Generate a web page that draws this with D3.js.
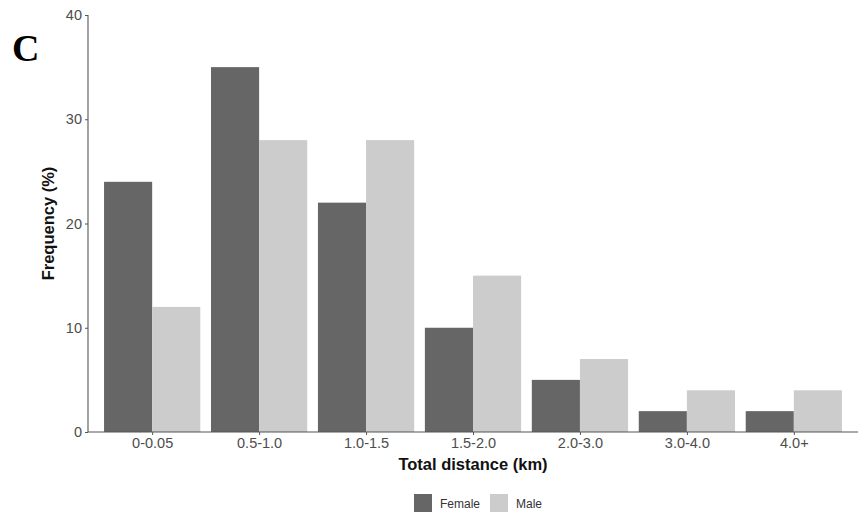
<!DOCTYPE html>
<html>
<head>
<meta charset="utf-8">
<script src="https://cdn.jsdelivr.net/npm/d3@7"></script>
<style>
  body { margin: 0; background: #fff; }
  svg { display: block; font-family: "Liberation Sans", Arial, sans-serif; }
</style>
</head>
<body>
<svg id="chart" width="859" height="518"></svg>
<script>
// data
const categories = ["0-0.05", "0.5-1.0", "1.0-1.5", "1.5-2.0", "2.0-3.0", "3.0-4.0", "4.0+"];
const female = [24, 35, 22, 10, 5, 2, 2];
const male   = [12, 28, 28, 15, 7, 4, 4];
const seriesNames = ["Female", "Male"];
const yTicks = [0, 10, 20, 30, 40];

const colors = { Female: "#666666", Male: "#cccccc" };

const svg = d3.select("#chart");
const plotLeft = 88, plotRight = 858, plotTop = 15, plotBottom = 432;

// ggplot style discrete expansion of 0.6 on each side
const x = d3.scalePoint().domain(categories).range([plotLeft, plotRight]).padding(0.6);
const step = x.step();
const groupW = step * 0.9;
const barW = groupW / 2;

const y = d3.scaleLinear().domain([0, 40]).range([plotBottom, plotTop]);

const rows = categories.map((c, i) => ({ cat: c, Female: female[i], Male: male[i] }));

// bars
const g = svg.append("g");
g.selectAll("g.grp")
  .data(rows)
  .join("g")
  .attr("class", "grp")
  .selectAll("rect")
  .data(d => seriesNames.map((k, j) => ({ cat: d.cat, key: k, j, value: d[k] })))
  .join("rect")
  .attr("x", d => x(d.cat) - groupW / 2 + d.j * barW)
  .attr("width", barW)
  .attr("y", d => y(d.value))
  .attr("height", d => y(0) - y(d.value))
  .attr("fill", d => colors[d.key]);

// y axis
const yAxis = svg.append("g")
  .attr("transform", `translate(${plotLeft},0)`)
  .call(d3.axisLeft(y).tickValues(yTicks).tickSize(3).tickPadding(3));
yAxis.select(".domain").attr("stroke", "#555").attr("stroke-width", 1.1).attr("d", `M0,${plotTop}V${plotBottom}`);
yAxis.selectAll(".tick line").attr("stroke", "#555");
yAxis.selectAll(".tick text").attr("fill", "#4d4d4d").attr("font-size", 14.5)
  .attr("font-family", "Liberation Sans, Arial, sans-serif");

// x axis
const xAxis = svg.append("g")
  .attr("transform", `translate(0,${plotBottom})`)
  .call(d3.axisBottom(x).tickSize(3).tickPadding(3));
xAxis.select(".domain").attr("stroke", "#555").attr("stroke-width", 1.1).attr("d", `M${plotLeft},0H${plotRight}`);
xAxis.selectAll(".tick line").attr("stroke", "#555");
xAxis.selectAll(".tick text").attr("fill", "#4d4d4d").attr("font-size", 14.5)
  .attr("font-family", "Liberation Sans, Arial, sans-serif");

// axis titles
svg.append("text")
  .attr("x", (plotLeft + plotRight) / 2).attr("y", 470)
  .attr("text-anchor", "middle")
  .attr("font-size", 16.5).attr("font-weight", "bold").attr("fill", "#111")
  .text("Total distance (km)");

svg.append("text")
  .attr("transform", `translate(54,${(plotTop + plotBottom) / 2}) rotate(-90)`)
  .attr("text-anchor", "middle")
  .attr("font-size", 16.5).attr("font-weight", "bold").attr("fill", "#111")
  .text("Frequency (%)");

// panel letter
svg.append("text")
  .attr("x", 12).attr("y", 61)
  .attr("font-family", "Liberation Serif, Times New Roman, serif")
  .attr("font-size", 38).attr("font-weight", "bold")
  .text("C");

// legend
const legendX = [414, 490];
const legend = svg.append("g");
seriesNames.forEach((k, i) => {
  legend.append("rect")
    .attr("x", legendX[i]).attr("y", 494)
    .attr("width", 18).attr("height", 18)
    .attr("fill", colors[k]);
  legend.append("text")
    .attr("x", legendX[i] + 26).attr("y", 508)
    .attr("font-size", 12).attr("fill", "#333")
    .text(k);
});
</script>
</body>
</html>
